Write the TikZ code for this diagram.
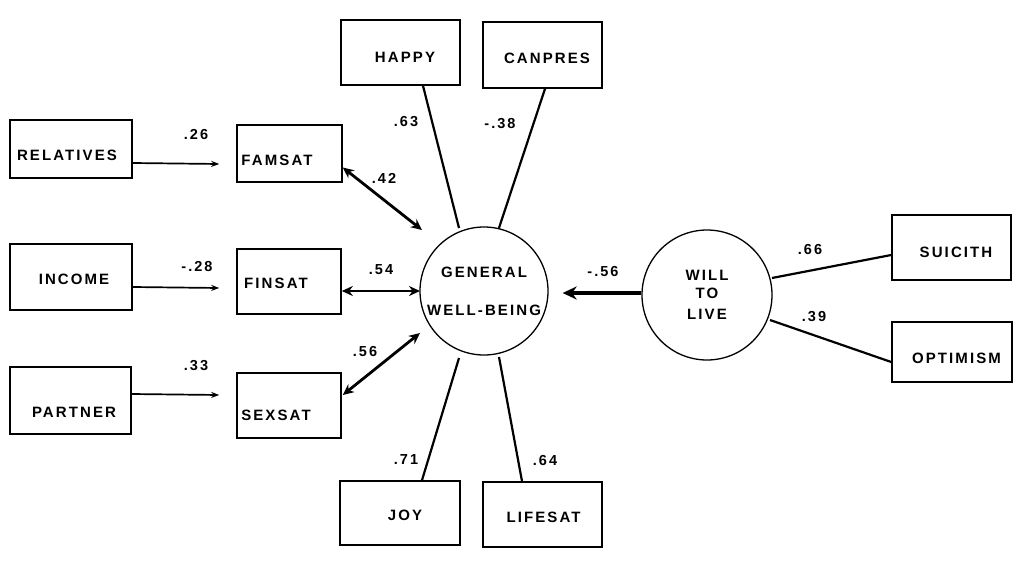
\documentclass[tikz,border=0pt]{standalone}
\usepackage{fontspec}
\newfontfamily\lab[LetterSpace=14]{Liberation Sans}
\usetikzlibrary{arrows.meta,calc}
\begin{document}
\begin{tikzpicture}[x=1pt,y=-1pt,
  every node/.style={font=\lab\bfseries\fontsize{15}{18}\selectfont},
  box/.style={draw, line width=1.6pt, minimum width=120pt, minimum height=65pt, inner sep=0pt},
  latent/.style={draw, circle, line width=1.3pt, minimum size=128pt, inner sep=0pt, align=center},
  coef/.style={inner sep=0pt, font=\lab\bfseries\fontsize{14.5}{17}\selectfont},
  arr/.style={line width=1.7pt, -{Stealth[length=8pt,width=6pt]}},
  dbl/.style={line width=2.8pt, {Stealth[length=11pt,width=10pt]}-{Stealth[length=11pt,width=10pt]}},
  load/.style={line width=2.2pt},
  big/.style={line width=3.8pt, -{Stealth[length=14pt,width=13pt]}}]
\useasboundingbox (0,0) rectangle (1017,562);

% exogenous boxes
\node[box, minimum width=122pt, minimum height=58pt,
  label={[xshift=-4pt,yshift=-6pt]center:RELATIVES}] (rel) at (71,149) {};
\node[box, minimum width=122pt, minimum height=66pt,
  label={[xshift=3pt,yshift=-2pt]center:INCOME}] (inc) at (71,277) {};
\node[box, minimum width=121pt, minimum height=67pt,
  label={[xshift=3.5pt,yshift=-11.5pt]center:PARTNER}] (par) at (70.5,400.5) {};

% satisfaction boxes
\node[box, minimum width=105pt, minimum height=57pt,
  label={[xshift=-12.5pt,yshift=-6.5pt]center:FAMSAT}] (fam) at (289.5,153.5) {};
\node[box, minimum width=104pt, minimum height=65pt,
  label={[xshift=-13pt,yshift=-1.5pt]center:FINSAT}] (fin) at (289,281.5) {};
\node[box, minimum width=104pt, minimum height=65pt,
  label={[xshift=-13pt,yshift=-9.5pt]center:SEXSAT}] (sex) at (289,405.5) {};

% indicator boxes
\node[box, minimum width=119pt,
  label={[xshift=4.5pt,yshift=-4.5pt]center:HAPPY}] (happy) at (400.5,52.5) {};
\node[box, minimum width=119pt, minimum height=66pt,
  label={[xshift=4.5pt,yshift=-3pt]center:CANPRES}] (canpres) at (542.5,55) {};
\node[box, minimum height=64pt,
  label={[xshift=5pt,yshift=-2pt]center:JOY}] (joy) at (400,513) {};
\node[box, minimum width=119pt,
  label={[xshift=1pt,yshift=-2.5pt]center:LIFESAT}] (lifesat) at (542.5,514.5) {};
\node[box, minimum width=119pt,
  label={[xshift=4.5pt,yshift=-4.5pt]center:SUICITH}] (suicith) at (951.5,247.5) {};
\node[box, minimum height=60pt,
  label={[xshift=4.5pt,yshift=-6pt]center:OPTIMISM}] (optimism) at (952,352) {};

% latent variables
\node[latent] (gwb) at (484,291) {GENERAL\\[20pt]WELL-BEING};
\node[latent, minimum size=130pt] (wtl) at (707,295) {WILL\\[0pt]TO\\[3pt]LIVE};

% regression arrows
\draw[arr] ($(rel.east)+(0,14)$) -- ($(fam.west)+(-17,10.5)$);
\draw[arr] ($(inc.east)+(0,10)$) -- ($(fin.west)+(-17,6.5)$);
\draw[arr] ($(par.east)+(0,-6.5)$) -- ($(sex.west)+(-17,-10.5)$);

% correlations
\draw[dbl] ($(fam.east)+(0,14)$) -- ($(gwb.center)+(-62,-61)$);
\draw[dbl] ($(fin.east)+(0,9.5)$) -- ($(gwb.center)+(-64,0)$);
\draw[dbl] ($(sex.east)+(1,-10.5)$) -- ($(gwb.center)+(-64,42)$);

% loadings
\draw[load] ($(gwb.center)+(-25,-63)$) -- ($(happy.south)+(22.5,0)$);
\draw[load] ($(gwb.center)+(15,-63)$) -- ($(canpres.south)+(2.5,0)$);
\draw[load] ($(gwb.center)+(-25,67)$) -- ($(joy.north)+(22,0)$);
\draw[load] ($(gwb.center)+(15,66)$) -- ($(lifesat.north)+(-20.5,0)$);
\draw[load] ($(wtl.center)+(65,-17)$) -- ($(suicith.west)+(0,7.5)$);
\draw[load] ($(wtl.center)+(63,25)$) -- ($(optimism.west)+(0,10)$);

% structural path
\draw[big, shorten >=14pt] ($(wtl.west)+(0,-2)$) -- ($(gwb.east)+(0,2)$);

% coefficients
\node[coef] (c1) at (196,135) {.26};
\node[coef] (c2) at (197,267) {-.28};
\node[coef] (c3) at (196,366) {.33};
\node[coef] (c4) at (384,178) {.42};
\node[coef] (c5) at (381,270) {.54};
\node[coef] (c6) at (365,352) {.56};
\node[coef] (c7) at (406,122) {.63};
\node[coef] (c8) at (500,124) {-.38};
\node[coef] (c9) at (406,460) {.71};
\node[coef] (c10) at (545,461) {.64};
\node[coef] (c11) at (603,272) {-.56};
\node[coef] (c12) at (810,250) {.66};
\node[coef] (c13) at (814,317) {.39};
\end{tikzpicture}
\end{document}
